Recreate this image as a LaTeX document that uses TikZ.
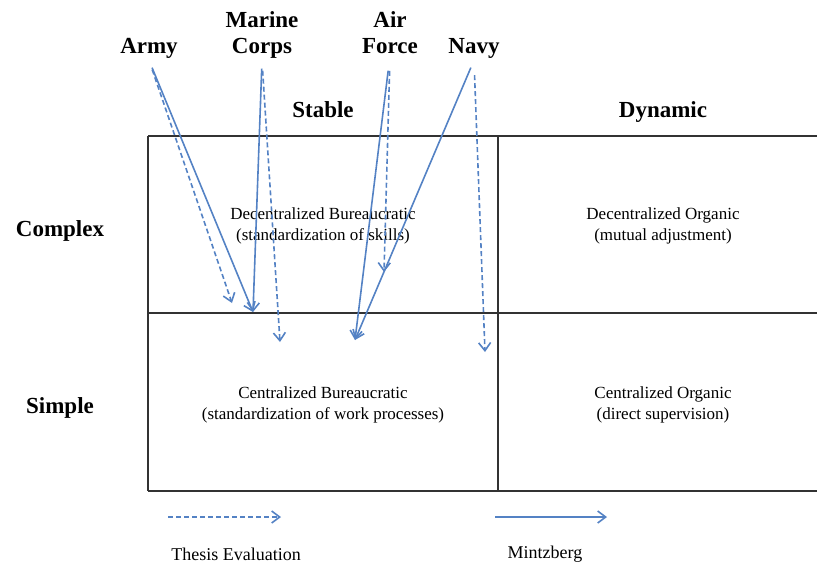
\documentclass[tikz,border=0pt]{standalone}
\usepackage{fontspec}
\setmainfont{Liberation Serif}
\usetikzlibrary{arrows.meta}

\definecolor{arrowblue}{RGB}{84,130,196}
\definecolor{gridgray}{RGB}{50,50,50}

\begin{document}
\begin{tikzpicture}[x=1pt,y=-1pt,
    service/.style={font=\fontsize{23}{26}\selectfont\bfseries, align=center, inner sep=2pt},
    axislbl/.style={font=\fontsize{23}{26}\selectfont\bfseries, anchor=base},
    cell/.style={font=\fontsize{17}{21}\selectfont, align=center},
    legendlbl/.style={font=\fontsize{18}{20}\selectfont},
    mintz/.style={draw=arrowblue, line width=1.6pt, shorten <=8pt,
      -{Straight Barb[length=8pt,width=12pt]}},
    thesis/.style={mintz, dash pattern=on 5pt off 3pt}]
  \useasboundingbox (0,0) rectangle (817,565);

  % the 2x2 grid
  \draw[gridgray, line width=2.2pt] (148,136) -- (817,136)
    (148,313) -- (817,313) (148,491) -- (817,491)
    (148,136) -- (148,491) (498,136) -- (498,491);

  \node[axislbl] (stable) at (323,117) {Stable};
  \node[axislbl] (dynamic) at (663,117) {Dynamic};
  \node[axislbl] (complex) at (60,236) {Complex};
  \node[axislbl] (simple) at (60,413) {Simple};

  \node[cell] (decbur) at (323,226) {Decentralized Bureaucratic\\(standardization of skills)};
  \node[cell] (decorg) at (663,226) {Decentralized Organic\\(mutual adjustment)};
  \node[cell] (cenbur) at (323,405) {Centralized Bureaucratic\\(standardization of work processes)};
  \node[cell] (cenorg) at (663,405) {Centralized Organic\\(direct supervision)};

  % services
  \node[service] (army) at (149,48) {Army};
  \node[service] (marine) at (262,35) {Marine\\Corps};
  \node[service] (airforce) at (390,32.5) {Air\\Force};
  \node[service] (navy) at (474,48) {Navy};

  \coordinate (armyS) at (253,312);
  \coordinate (armyD) at (232,303);
  \coordinate (marineD) at (280,342);
  \coordinate (airS) at (355,340);
  \coordinate (airD) at (384,272);
  \coordinate (navyD) at (485,352);

  \draw[mintz] (army.south) -- (armyS);
  \draw[thesis, shorten <=10pt] (army.south) -- (armyD);
  \draw[mintz] (marine.south) -- (armyS);
  \draw[thesis, shorten <=10pt] (marine.south) -- (marineD);
  \draw[mintz, shorten <=15pt] (airforce.south) -- (airS);
  \draw[thesis, shorten <=15pt] (airforce.south) -- (airD);
  \draw[mintz] (navy.south) -- (airS);
  \draw[thesis, shorten <=15pt] (navy.south) -- (navyD);

  % legend
  \coordinate (thA) at (168,517);
  \coordinate (thB) at (281,517);
  \coordinate (mzA) at (495,517);
  \coordinate (mzB) at (607,517);
  \draw[thesis, shorten <=0pt] (thA) -- (thB);
  \draw[mintz, shorten <=0pt] (mzA) -- (mzB);
  \node[legendlbl] (thesislbl) at (236,554) {Thesis Evaluation};
  \node[legendlbl] (mintzlbl) at (545,554) {Mintzberg};
\end{tikzpicture}
\end{document}
